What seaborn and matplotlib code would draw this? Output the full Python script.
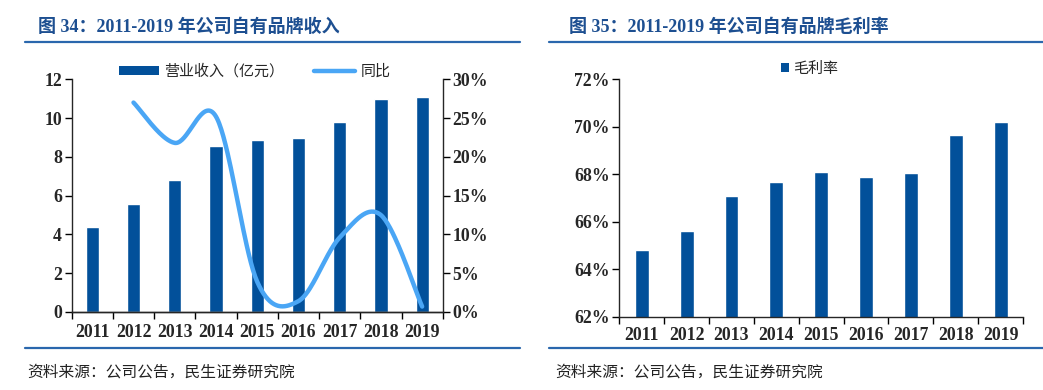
import numpy as np
import pandas as pd
import matplotlib
matplotlib.use("Agg")
import matplotlib.pyplot as plt
import seaborn as sns
from matplotlib.lines import Line2D
from matplotlib.patches import Patch
from matplotlib.ticker import FixedLocator

# ---------------- data ----------------
years = ["2011", "2012", "2013", "2014", "2015", "2016", "2017", "2018", "2019"]
revenue = [4.40, 5.58, 6.82, 8.54, 8.85, 8.95, 9.79, 10.99, 11.10]          # 营业收入（亿元）
yoy_years = ["2012", "2013", "2014", "2015", "2016", "2017", "2018", "2019"]
yoy = [27.0, 21.8, 25.2, 3.9, 1.4, 9.6, 12.5, 0.7]                           # 同比 %
gross_margin = [64.8, 65.6, 67.1, 67.66, 68.1, 67.9, 68.04, 69.67, 70.2]     # 毛利率 %

title_left = "图 34：2011-2019 年公司自有品牌收入"
title_right = "图 35：2011-2019 年公司自有品牌毛利率"
source = "资料来源：公司公告，民生证券研究院"

BAR = "#02509a"
LINE = "#4aa6f5"
TITLE_C = "#1d4f91"
RULE_C = "#2a67ad"

sns.set_style("ticks")
plt.rcParams["font.family"] = ["Liberation Serif", "Noto Sans CJK SC", "DejaVu Sans"]
plt.rcParams["axes.linewidth"] = 1.0

fig = plt.figure(figsize=(10.43, 3.9), dpi=100)

def smooth(xs, ys, n=40):
    xs = np.asarray(xs, float); ys = np.asarray(ys, float)
    px = np.concatenate([[xs[0]], xs, [xs[-1]]])
    py = np.concatenate([[ys[0]], ys, [ys[-1]]])
    t = np.linspace(0, 1, n)[:, None]
    out = []
    for i in range(len(xs) - 1):
        p0 = np.array([px[i], py[i]]); p1 = np.array([px[i + 1], py[i + 1]])
        p2 = np.array([px[i + 2], py[i + 2]]); p3 = np.array([px[i + 3], py[i + 3]])
        c1 = p1 + (p2 - p0) / 6.0
        c2 = p2 - (p3 - p1) / 6.0
        seg = ((1 - t) ** 3) * p1 + 3 * ((1 - t) ** 2) * t * c1 + 3 * (1 - t) * t ** 2 * c2 + t ** 3 * p2
        out.append(seg if i == 0 else seg[1:])
    seg = np.vstack(out)
    return seg[:, 0], seg[:, 1]

TICK_FS = 12.8

# ---------------- left chart ----------------
df_l = pd.DataFrame({"year": years, "revenue": revenue})
ax = fig.add_axes([0.0687, 0.2, 0.3558, 0.5967])
sns.barplot(data=df_l, x="year", y="revenue", color=BAR, saturation=1, width=0.32, ax=ax)
ax.set_xlim(-0.5, 8.5)
ax.set_ylim(0, 12)
ax.set_yticks(range(0, 13, 2))
ax.set_xlabel(""); ax.set_ylabel("")
ax2 = ax.twinx()
xpos = [years.index(y) for y in yoy_years]
sx, sy = smooth(xpos, yoy)
ax2.plot(sx, sy, color=LINE, lw=3.2, solid_capstyle="round")
ax2.set_ylim(0, 30)
ax2.set_yticks(range(0, 31, 5))
ax2.set_yticklabels([f"{v}%" for v in range(0, 31, 5)])
for a in (ax, ax2):
    a.spines["top"].set_visible(False)
ax2.spines["left"].set_visible(False)
ax.spines["right"].set_visible(False)

# ---------------- right chart ----------------
df_r = pd.DataFrame({"year": years, "gm": gross_margin})
bx = fig.add_axes([0.5938, 0.188, 0.387, 0.6087])
sns.barplot(data=df_r, x="year", y="gm", color=BAR, saturation=1, width=0.31, ax=bx)
bx.set_xlim(-0.5, 8.5)
bx.set_ylim(62, 72)
bx.set_yticks(range(62, 73, 2))
bx.set_yticklabels([f"{v}%" for v in range(62, 73, 2)])
bx.set_xlabel(""); bx.set_ylabel("")
bx.spines["top"].set_visible(False)
bx.spines["right"].set_visible(False)

for a, p in ((ax, 8.5), (bx, 7.5)):
    a.xaxis.set_minor_locator(FixedLocator(np.arange(-0.5, 9.0, 1.0)))
    a.tick_params(axis="x", which="major", length=0, pad=p)
    a.tick_params(axis="x", which="minor", length=5, width=1, direction="out", color="black")
    a.tick_params(axis="y", length=5, width=1, direction="out", color="black", pad=2)
    for lab in a.get_xticklabels() + a.get_yticklabels():
        lab.set_fontsize(TICK_FS); lab.set_fontweight("bold")
ax2.tick_params(axis="y", length=5, width=1, direction="out", color="black", pad=2)
for lab in ax2.get_yticklabels():
    lab.set_fontsize(TICK_FS); lab.set_fontweight("bold")

# ---------------- legends ----------------
cjk = ["Noto Sans CJK SC", "DejaVu Sans"]
h1 = Patch(facecolor=BAR, edgecolor="none", label="营业收入（亿元）")
h2 = Line2D([], [], color=LINE, lw=3.2, label="同比")
fig.legend(handles=[h1, h2], loc="center", bbox_to_anchor=(0.244, 0.817), ncol=2,
           frameon=False, prop={"family": cjk, "size": 10.8}, handlelength=2.7,
           handleheight=0.5, handletextpad=0.35, columnspacing=2.0)
h3 = Patch(facecolor=BAR, edgecolor="none", label="毛利率")
fig.legend(handles=[h3], loc="center", bbox_to_anchor=(0.776, 0.823), ncol=1,
           frameon=False, prop={"family": cjk, "size": 10.8}, handlelength=0.55,
           handleheight=0.55, handletextpad=0.25)

# ---------------- titles, rules, sources ----------------
tfam = ["Liberation Serif", "Noto Sans CJK SC", "DejaVu Sans"]
fig.text(0.0364, 0.931, title_left, fontsize=13, fontweight="bold", color=TITLE_C,
         family=tfam, va="center", ha="left")
fig.text(0.5455, 0.931, title_right, fontsize=13, fontweight="bold", color=TITLE_C,
         family=tfam, va="center", ha="left")
for x0, x1 in ((0.024, 0.4986), (0.526, 1.0)):
    fig.add_artist(Line2D([x0, x1], [0.892, 0.892], color=RULE_C, lw=1.6, transform=fig.transFigure))
    fig.add_artist(Line2D([x0, x1], [0.1077, 0.1077], color=RULE_C, lw=1.6, transform=fig.transFigure))
fig.text(0.026, 0.046, source, fontsize=11.3, color="#222222", family=cjk, va="center", ha="left")
fig.text(0.532, 0.046, source, fontsize=11.3, color="#222222", family=cjk, va="center", ha="left")

fig.savefig("out.png", dpi=100)
